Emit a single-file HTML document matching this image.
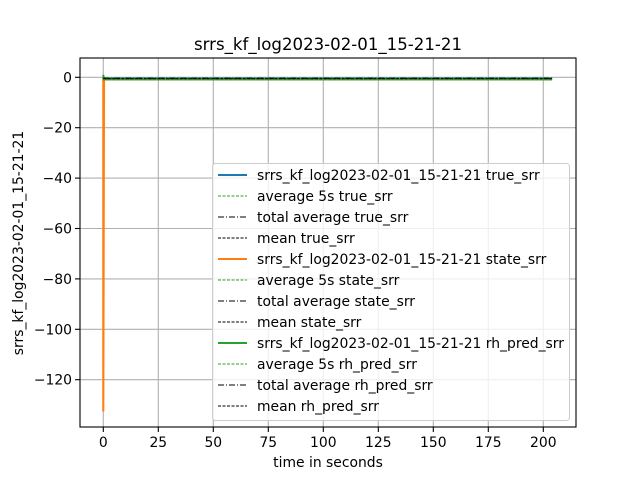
<!DOCTYPE html>
<html><head><meta charset="utf-8"><style>
body{margin:0;background:#fff}
svg{display:block;font-family:"DejaVu Sans","Liberation Sans",sans-serif}
</style></head><body>
<svg id="chart" width="640" height="480" viewBox="0 0 640 480" xmlns="http://www.w3.org/2000/svg">
<rect width="640" height="480" fill="#fff"/>
<text x="328" y="50" font-size="16.6" text-anchor="middle">srrs_kf_log2023-02-01_15-21-21</text>
<g id="grid"></g>
<g id="series"></g>
<rect x="80" y="58" width="496" height="369" fill="none" stroke="#000" stroke-width="1.1"/>
<g id="ticks"></g>
<text x="328" y="467" font-size="13.9" text-anchor="middle">time in seconds</text>
<text transform="translate(23,243) rotate(-90)" font-size="13.9" text-anchor="middle">srrs_kf_log2023-02-01_15-21-21</text>
<g id="legend"></g>
</svg>
<script>
const xTicks=[0,25,50,75,100,125,150,175,200];
const yTicks=[0,-20,-40,-60,-80,-100,-120];
const trueT=[0,204];
const trueV=[-0.5,-0.5];
const stateT=[0,0,0.3,204];
const stateV=[0,-132.6,-0.8,-0.8];
const predT=[0,0.2,204];
const predV=[1,-0.8,-0.8];
const legendLabels=["srrs_kf_log2023-02-01_15-21-21 true_srr","average 5s true_srr","total average true_srr","mean true_srr","srrs_kf_log2023-02-01_15-21-21 state_srr","average 5s state_srr","total average state_srr","mean state_srr","srrs_kf_log2023-02-01_15-21-21 rh_pred_srr","average 5s rh_pred_srr","total average rh_pred_srr","mean rh_pred_srr"];
const NS="http://www.w3.org/2000/svg";
const xs=v=>103.3+v*2.2;
const ys=v=>77.3-v*2.52;
function mk(t,a,p){const e=document.createElementNS(NS,t);for(const k in a)e.setAttribute(k,a[k]);p.appendChild(e);return e;}
const G=document.getElementById('grid'),T=document.getElementById('ticks'),S=document.getElementById('series'),L=document.getElementById('legend');
xTicks.forEach(v=>{const x=xs(v);
const g=mk('line',{x1:x,x2:x,y1:58,y2:427,stroke:'#b0b0b0','stroke-width':1.1},G);

const t=mk('line',{x1:x,x2:x,y1:427,y2:432,stroke:'#000','stroke-width':1.1},T);

const l=mk('text',{x:x,y:447,'font-size':13.9,'text-anchor':'middle'},T);l.textContent=v;
});
yTicks.forEach(v=>{const y=ys(v);
const g=mk('line',{x1:80,x2:576,y1:y,y2:y,stroke:'#b0b0b0','stroke-width':1.1},G);

const t=mk('line',{x1:75,x2:80,y1:y,y2:y,stroke:'#000','stroke-width':1.1},T);

const l=mk('text',{x:72,y:y+5,'font-size':13.9,'text-anchor':'end'},T);l.textContent=String(v).replace('-','\u2212');
});
function line(tt,vv,c,w,dash,name){const d=tt.map((t,i)=>(i?'L':'M')+xs(t).toFixed(1)+','+ys(vv[i]).toFixed(1)).join('');
const p=mk('path',{d:d,fill:'none',stroke:c,'stroke-width':w},S);if(dash)p.setAttribute('stroke-dasharray',dash);
}
line(trueT,trueV,'#1f77b4',2.1,null,'true-srr-line');
line(stateT,stateV,'#ff7f0e',2.1,null,'state-srr-line');
line(predT,predV,'#2ca02c',2.1,null,'rh-pred-srr-line');
line([0,204],[-0.3,-0.3],'#000',1,'6,2,1,2','total-average-line');
line([0,204],[-0.6,-0.6],'#000',1,'3,1.5','mean-line');
line([0,204],[-1.0,-1.0],'#2ca02c',1,'3,1.5','average-5s-line');
const lb=mk('rect',{x:212.5,y:163.5,width:357,height:257,rx:3,fill:'#fff','fill-opacity':0.8,stroke:'#cccccc'},L);

const styles=[['#1f77b4',2.1,null],['#2ca02c',1,'3,1.5'],['#000',1,'6,2,1,2'],['#000',1,'3,1.5']];
const mainC=['#1f77b4','#ff7f0e','#2ca02c'];
legendLabels.forEach((s,i)=>{const y=175+i*21;const st=styles[i%4];const c=i%4===0?mainC[i/4]:st[0];
const ln=mk('line',{x1:218,x2:247,y1:y,y2:y,stroke:c,'stroke-width':st[1]},L);if(st[2])ln.setAttribute('stroke-dasharray',st[2]);

const t=mk('text',{x:257,y:y+5,'font-size':13.9},L);t.textContent=s;
});
</script>
</body></html>
